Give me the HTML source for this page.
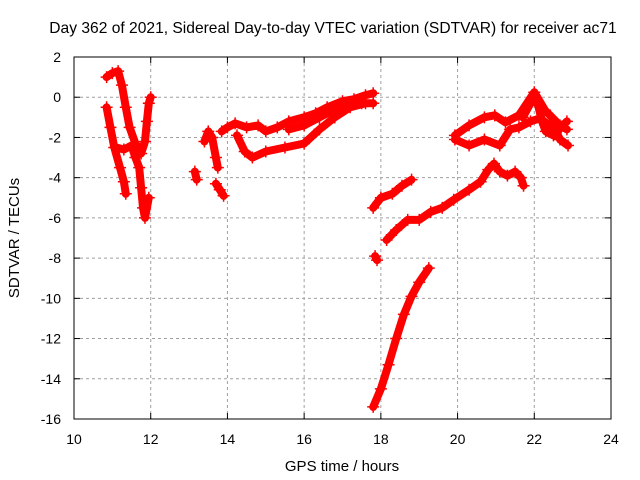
<!DOCTYPE html>
<html><head><meta charset="utf-8"><style>
body{margin:0;background:#fff}
svg{display:block;font-family:"Liberation Sans",sans-serif}
</style></head><body>
<svg id="chart" width="640" height="480" viewBox="0 0 640 480">
<rect width="640" height="480" fill="#fff"/>
<text x="333" y="33" font-size="15.6" text-anchor="middle">Day 362 of 2021, Sidereal Day-to-day VTEC variation (SDTVAR) for receiver ac71</text>
<text x="342" y="471" font-size="15" text-anchor="middle">GPS time / hours</text>
<text transform="translate(19,238) rotate(-90)" font-size="15" text-anchor="middle">SDTVAR / TECUs</text>
<g id="grid"></g>
<g id="ticks"></g>
<g id="series"></g>
<rect x="74" y="57" width="537" height="362" fill="none" stroke="#000" stroke-width="1"/>
</svg>
<script>
const xTicks=[10,12,14,16,18,20,22,24];
const yTicks=[2,0,-2,-4,-6,-8,-10,-12,-14,-16];
const trace1=[[10.85,1.0],[11.0,1.2],[11.15,1.3],[11.25,0.6],[11.35,-0.5],[11.45,-1.5],[11.6,-2.3],[11.75,-2.8],[11.85,-2.2],[11.9,-1.2],[11.95,-0.3],[12.0,0.0]];
const trace2=[[10.85,-0.5],[10.95,-1.5],[11.05,-2.5],[11.2,-3.5],[11.3,-4.2],[11.35,-4.8]];
const trace3=[[11.1,-2.5],[11.3,-2.6],[11.5,-2.4],[11.6,-3.0],[11.7,-3.5],[11.75,-4.5],[11.8,-5.5],[11.85,-6.0],[11.95,-5.0]];
const trace4=[[13.15,-3.7],[13.2,-4.1]];
const trace5=[[13.4,-2.2],[13.5,-1.7],[13.6,-2.0],[13.7,-3.0],[13.75,-3.5]];
const trace6=[[13.7,-4.3],[13.8,-4.6],[13.9,-4.9]];
const trace7=[[13.85,-1.7],[14.0,-1.5],[14.2,-1.3],[14.5,-1.5],[14.8,-1.4],[15.0,-1.7],[15.3,-1.5],[15.6,-1.2],[16.0,-1.0],[16.3,-0.8],[16.6,-0.5],[17.0,-0.2],[17.3,-0.1],[17.6,0.1],[17.8,0.2]];
const trace8=[[15.6,-1.6],[16.0,-1.4],[16.4,-1.0],[16.8,-0.6],[17.2,-0.4],[17.5,-0.3],[17.8,-0.3]];
const trace9=[[14.25,-1.9],[14.45,-2.7],[14.65,-3.0],[15.0,-2.7],[15.5,-2.5],[16.0,-2.3],[16.4,-1.6],[16.8,-1.0],[17.2,-0.5],[17.6,-0.3]];
const trace10=[[17.8,-5.5],[18.0,-5.0],[18.3,-4.8],[18.55,-4.4],[18.8,-4.1]];
const trace11=[[17.85,-7.9],[17.9,-8.1]];
const trace12=[[17.8,-15.4],[18.0,-14.5],[18.2,-13.3],[18.4,-12.0],[18.6,-10.8],[18.8,-9.9],[19.0,-9.2],[19.25,-8.5]];
const trace13=[[18.15,-7.1],[18.4,-6.6],[18.7,-6.1],[19.0,-6.1],[19.3,-5.7],[19.6,-5.5],[19.9,-5.1],[20.3,-4.6],[20.6,-4.2],[20.8,-3.6],[20.95,-3.3],[21.1,-3.7],[21.3,-3.9],[21.5,-3.7],[21.65,-4.0],[21.72,-4.4]];
const trace14=[[19.93,-1.9],[20.3,-1.4],[20.7,-1.0],[20.97,-0.9],[21.25,-1.25],[21.6,-0.9],[22.0,0.25],[22.28,-0.65],[22.67,-1.4],[22.85,-1.6]];
const trace15=[[19.93,-2.1],[20.3,-2.4],[20.7,-2.1],[21.1,-2.4],[21.37,-1.6],[21.6,-1.5],[21.9,-1.2],[22.15,-1.05],[22.54,-1.6],[22.67,-2.1],[22.88,-2.4]];
const trace16=[[21.7,-1.0],[21.9,-0.3],[22.0,0.1],[22.1,-0.4],[22.2,-1.2],[22.3,-1.7],[22.5,-1.9],[22.7,-1.5],[22.85,-1.2]];
const traces=[trace1,trace2,trace3,trace4,trace5,trace6,trace7,trace8,trace9,trace10,trace11,trace12,trace13,trace14,trace15,trace16];

const NS="http://www.w3.org/2000/svg";
const X0=74,X1=611,Y0=419,Y1=57;
function xs(t){return X0+(t-10)/(24-10)*(X1-X0);}
function ys(v){return Y0-(v+16)/(2+16)*(Y0-Y1);}
const grid=document.getElementById('grid'),ticks=document.getElementById('ticks'),series=document.getElementById('series');
function mk(tag,attrs,parent){const e=document.createElementNS(NS,tag);for(const k in attrs)e.setAttribute(k,attrs[k]);parent.appendChild(e);return e;}
xTicks.forEach(t=>{
  const x=xs(t);
  if(t>10&&t<24){const g=mk('line',{x1:x,x2:x,y1:Y1,y2:Y0,stroke:'#a0a0a0','stroke-dasharray':'3,3'},grid);
  
  }
  mk('line',{x1:x,x2:x,y1:Y0,y2:Y0-6,stroke:'#000'},grid);
  mk('line',{x1:x,x2:x,y1:Y1,y2:Y1+6,stroke:'#000'},grid);
  const l=mk('text',{x:x,y:444,'font-size':14,'text-anchor':'middle'},ticks);
  
  
  l.textContent=t;
});
yTicks.forEach(v=>{
  const y=ys(v);
  if(v<2&&v>-16){const g=mk('line',{x1:X0,x2:X1,y1:y,y2:y,stroke:'#a0a0a0','stroke-dasharray':'3,3'},grid);
  
  }
  mk('line',{x1:X0,x2:X0+6,y1:y,y2:y,stroke:'#000'},grid);
  mk('line',{x1:X1,x2:X1-6,y1:y,y2:y,stroke:'#000'},grid);
  const l=mk('text',{x:61,y:y+5,'font-size':14,'text-anchor':'end'},ticks);
  
  
  l.textContent=v;
});
traces.forEach((tr,i)=>{
  const pts=tr.map(p=>xs(p[0]).toFixed(1)+','+ys(p[1]).toFixed(1)).join(' ');
  const pl=mk('polyline',{points:pts,fill:'none',stroke:'#f00','stroke-width':8,'stroke-linejoin':'round','stroke-linecap':'round'},series);
  
  
  tr.forEach(p=>{
    const x=xs(p[0]),y=ys(p[1]);
    const m=mk('path',{d:`M${x-6},${y}H${x+6}M${x},${y-6}V${y+6}`,stroke:'#f00','stroke-width':1.5},series);
    
    
  });
});
</script>
</body></html>
